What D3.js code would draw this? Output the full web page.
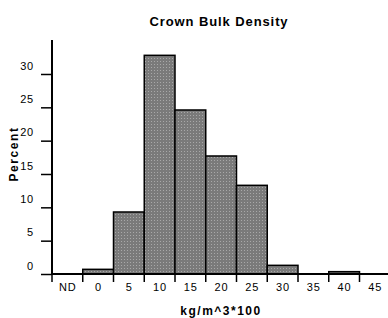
<!DOCTYPE html>
<html>
<head>
<meta charset="utf-8">
<script src="https://cdn.jsdelivr.net/npm/d3@7"></script>
<style>
  body { margin: 0; background: #fff; }
  text { font-family: "Liberation Sans", Arial, sans-serif; }
</style>
</head>
<body>
<svg id="chart" width="388" height="318"></svg>
<script>
// data
const bins = ["ND", "0", "5", "10", "15", "20", "25", "30", "35", "40", "45"];
const percent = [0, 0.7, 9.3, 32.8, 24.6, 17.7, 13.3, 1.3, 0, 0.35, 0];
const yTicks = [0, 5, 10, 15, 20, 25, 30];

const svg = d3.select("#chart");

const left = 52, base = 274;
const x = d3.scaleBand().domain(bins).range([left, left + 11 * 30.75]).padding(0);
const y = d3.scaleLinear().domain([0, 35]).range([base, base - 35 * 6.667]);

// dotted grey fill
const pat = svg.append("defs").append("pattern")
  .attr("id", "dots").attr("width", 3).attr("height", 3)
  .attr("patternUnits", "userSpaceOnUse");
pat.append("rect").attr("width", 3).attr("height", 3).attr("fill", "#7a7a7a");
pat.append("rect").attr("x", 1).attr("y", 1).attr("width", 1).attr("height", 1).attr("fill", "#a8a8a8");

svg.append("text").text("Crown Bulk Density")
  .attr("x", 219).attr("y", 26).attr("text-anchor", "middle")
  .attr("font-size", 13).attr("font-weight", "bold").attr("letter-spacing", 0.9);

// bars
svg.selectAll("rect.bar").data(percent).enter().append("rect")
  .attr("class", "bar")
  .attr("x", (d, i) => x(bins[i]))
  .attr("width", x.bandwidth())
  .attr("y", d => y(d))
  .attr("height", d => base - y(d))
  .attr("fill", "url(#dots)")
  .attr("stroke", "#000")
  .attr("stroke-width", 1.5);

// y axis
const ya = svg.append("g").attr("transform", `translate(${left},0)`)
  .call(d3.axisLeft(y).tickValues(yTicks).tickSize(11).tickSizeOuter(0));
ya.select(".domain").remove();
ya.selectAll("line").attr("stroke-width", 1.5);
ya.selectAll("text").attr("font-size", 11).attr("x", -18).attr("dy", "-0.45em")
  .attr("letter-spacing", 0.8)
  .attr("font-family", "Liberation Sans, Arial, sans-serif");
svg.append("line").attr("x1", left).attr("x2", left).attr("y1", 40).attr("y2", base + 1)
  .attr("stroke", "#000").attr("stroke-width", 2);

// x axis
svg.append("line").attr("x1", left).attr("x2", 388).attr("y1", base).attr("y2", base)
  .attr("stroke", "#000").attr("stroke-width", 2);
svg.selectAll("line.xt").data(bins).enter().append("line")
  .attr("class", "xt")
  .attr("x1", d => x(d)).attr("x2", d => x(d))
  .attr("y1", base).attr("y2", base + 8)
  .attr("stroke", "#000").attr("stroke-width", 1.5);
svg.selectAll("text.xl").data(bins).enter().append("text")
  .attr("class", "xl")
  .attr("x", d => x(d) + x.bandwidth() / 2 + 0.5)
  .attr("y", 291)
  .attr("text-anchor", "middle")
  .attr("font-size", 11).attr("letter-spacing", 1)
  .text(d => d);

svg.append("text").text("kg/m^3*100")
  .attr("x", 221).attr("y", 315).attr("text-anchor", "middle")
  .attr("font-size", 12).attr("font-weight", "bold").attr("letter-spacing", 1.5);

svg.append("text").text("Percent")
  .attr("transform", "translate(18,154) rotate(-90)")
  .attr("text-anchor", "middle")
  .attr("font-size", 12).attr("font-weight", "bold").attr("letter-spacing", 1.6);
</script>
</body>
</html>
